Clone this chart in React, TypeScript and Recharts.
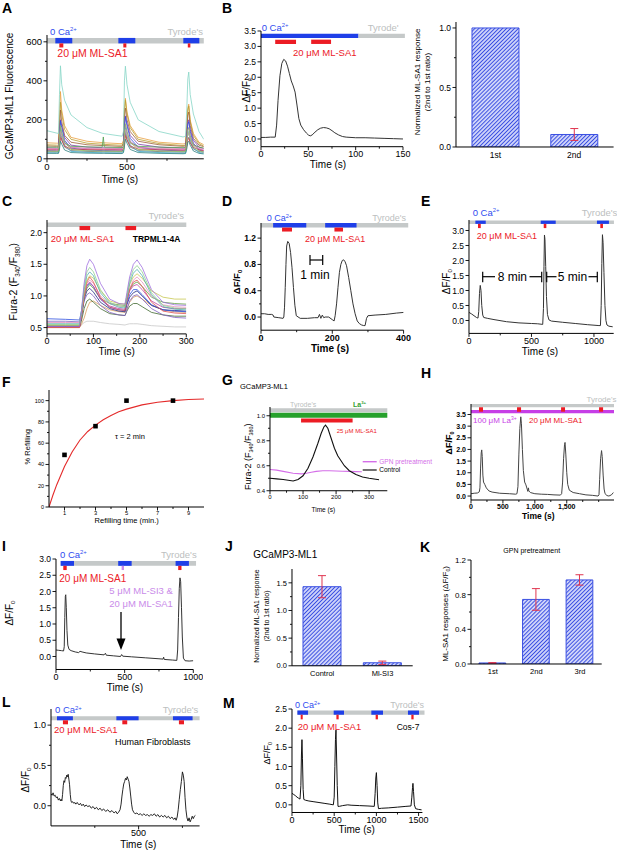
import React from "react";
import { LineChart, Line, BarChart, Bar, XAxis, YAxis, ReferenceArea, ErrorBar } from "recharts";

const FONT = "'Liberation Sans', Arial, Helvetica, sans-serif";
const BLUE_BAR = "#1f3fe8";
const RED_BAR = "#ec1c24";
const GRAY_BAR = "#c5c9c9";
const BLUE_TXT = "#2f4cf0";
const RED_TXT = "#ec2028";
const TYRODE = "#bcc0c0";
const VIOLET = "#c98be9";
const MAGENTA = "#c63ee6";
const GPN = "#d46ee8";
const GREEN_BAR = "#26a12c";
const GREEN_TXT = "#34a034";
const TRACE = "#333333";
const HATCH = "#3a4fe2";

// ---------- A: GCaMP3-ML1 fluorescence, single cells ----------
const aTime = [0, 60, 72, 78, 84, 92, 110, 150, 250, 345, 352, 358, 450, 470, 478, 484, 490, 500, 520, 570, 700, 850, 866, 874, 880, 886, 895, 915, 950, 980];
const aValues = [
  [82, 80, 80, 200, 345, 250, 170, 110, 90, 83, 82, 82, 78, 78, 95, 260, 310, 240, 170, 110, 85, 76, 78, 170, 260, 280, 200, 130, 85, 72],
  [72, 70, 70, 170, 290, 230, 150, 100, 80, 75, 74, 74, 70, 70, 85, 240, 300, 230, 160, 100, 78, 68, 70, 160, 250, 270, 190, 120, 78, 65],
  [66, 64, 64, 150, 250, 190, 120, 85, 72, 68, 68, 68, 64, 64, 78, 210, 260, 200, 140, 90, 72, 64, 66, 150, 220, 240, 170, 105, 70, 62],
  [56, 54, 54, 120, 200, 170, 110, 70, 60, 57, 57, 56, 54, 54, 65, 170, 220, 180, 120, 75, 60, 54, 55, 120, 185, 200, 150, 95, 60, 52],
  [42, 40, 40, 110, 195, 160, 95, 55, 45, 42, 42, 42, 40, 40, 50, 160, 215, 170, 105, 60, 45, 40, 41, 110, 175, 190, 140, 80, 45, 38],
  [50, 48, 48, 100, 160, 130, 85, 58, 52, 49, 49, 49, 47, 47, 55, 130, 175, 140, 90, 58, 50, 46, 47, 95, 150, 160, 120, 75, 50, 44],
  [60, 59, 59, 90, 130, 110, 80, 64, 61, 60, 112, 60, 58, 58, 62, 100, 140, 115, 82, 64, 60, 57, 58, 90, 125, 130, 100, 72, 60, 55],
  [36, 35, 35, 70, 120, 100, 60, 42, 38, 36, 36, 36, 35, 35, 40, 90, 130, 100, 60, 42, 37, 34, 35, 70, 105, 110, 85, 50, 37, 33],
  [31, 30, 30, 80, 150, 120, 70, 38, 33, 31, 31, 31, 30, 30, 36, 110, 160, 120, 70, 38, 32, 29, 30, 80, 130, 140, 100, 55, 32, 28],
  [46, 45, 45, 70, 110, 95, 65, 50, 47, 46, 46, 46, 45, 45, 48, 80, 120, 95, 65, 50, 46, 44, 45, 68, 100, 105, 82, 58, 46, 42],
  [53, 52, 52, 85, 140, 115, 78, 58, 54, 53, 53, 53, 52, 52, 56, 100, 150, 120, 80, 58, 53, 51, 52, 85, 128, 135, 105, 68, 53, 50],
  [28, 28, 28, 50, 90, 75, 45, 32, 29, 28, 28, 28, 27, 27, 31, 65, 100, 80, 48, 32, 28, 26, 27, 52, 85, 90, 70, 40, 28, 25],
  [39, 38, 38, 90, 170, 140, 85, 48, 41, 39, 39, 39, 38, 38, 44, 130, 180, 140, 85, 48, 40, 37, 38, 95, 150, 160, 120, 65, 40, 35],
  [144, 132, 130, 330, 477, 380, 300, 225, 160, 131, 130, 129, 118, 116, 140, 400, 475, 380, 290, 200, 140, 112, 115, 260, 410, 445, 330, 230, 140, 100],
];
const aColors = ["#e8a040", "#b8a030", "#a0603a", "#8040b0", "#3050e0", "#c050c0", "#50a050", "#707070", "#40b0d0", "#d04040", "#e090b0", "#308080", "#90c060", "#86d6c6"];
const aBlue: [number, number][] = [[52, 158], [446, 552], [852, 952]];
const aRed: [number, number][] = [[77, 102], [477, 496], [880, 896]];

// ---------- B ----------
const bTrace: [number, number][] = [[0, 0.05], [5, 0.05], [10, 0.06], [15, 0.06], [16.5, 0.45], [18, 1.25], [20, 2.05], [22, 2.45], [24, 2.58], [26, 2.53], [28, 2.36], [30, 2.12], [32, 1.88], [34, 1.72], [36, 1.52], [38, 1.1], [40, 0.66], [42, 0.45], [45, 0.3], [48, 0.19], [50, 0.13], [52, 0.1], [54, 0.13], [57, 0.22], [60, 0.3], [63, 0.35], [66, 0.37], [69, 0.36], [72, 0.33], [75, 0.27], [78, 0.2], [82, 0.13], [86, 0.08], [90, 0.06], [100, 0.04], [110, 0.04], [120, 0.03], [130, 0.02], [140, 0.01], [150, 0.0]];
const bBlue: [number, number][] = [[0, 103]];
const bGray: [number, number][] = [[103, 152]];
const bRed: [number, number][] = [[15, 37], [53, 74]];
const bBars = [
  { name: "1st", v: 1.0, e: null },
  { name: "2nd", v: 0.105, e: 0.05 },
];

// ---------- C ----------
const cTime = [0, 40, 70, 74, 80, 86, 92, 100, 115, 135, 155, 168, 172, 178, 186, 194, 205, 225, 250, 275, 300];
const cValues = [
  [0.52, 0.52, 0.52, 0.54, 0.58, 0.6, 0.6, 0.6, 0.58, 0.56, 0.55, 0.54, 0.55, 0.56, 0.56, 0.56, 0.55, 0.53, 0.52, 0.51, 0.51],
  [0.5, 0.5, 0.5, 0.55, 0.65, 0.8, 0.9, 0.92, 0.85, 0.78, 0.75, 0.74, 0.8, 0.9, 0.98, 1.0, 0.95, 0.85, 0.78, 0.75, 0.74],
  [0.51, 0.51, 0.51, 0.6, 0.8, 0.92, 0.95, 0.9, 0.8, 0.72, 0.7, 0.69, 0.76, 0.84, 0.88, 0.88, 0.83, 0.74, 0.7, 0.68, 0.68],
  [0.6, 0.6, 0.59, 0.7, 0.92, 1.02, 1.05, 1.0, 0.85, 0.74, 0.7, 0.69, 0.78, 0.92, 1.0, 1.02, 0.95, 0.8, 0.7, 0.66, 0.65],
  [0.52, 0.52, 0.52, 0.66, 0.95, 1.08, 1.12, 1.06, 0.9, 0.8, 0.76, 0.75, 0.86, 0.98, 1.05, 1.08, 1.0, 0.85, 0.78, 0.77, 0.76],
  [0.64, 0.63, 0.62, 0.75, 1.0, 1.15, 1.2, 1.15, 0.95, 0.82, 0.78, 0.77, 0.88, 1.02, 1.1, 1.1, 1.02, 0.86, 0.78, 0.76, 0.75],
  [0.53, 0.53, 0.53, 0.7, 0.98, 1.12, 1.18, 1.12, 0.96, 0.88, 0.86, 0.85, 0.96, 1.1, 1.19, 1.22, 1.15, 0.98, 0.9, 0.88, 0.87],
  [0.51, 0.51, 0.51, 0.68, 1.0, 1.17, 1.22, 1.15, 0.95, 0.84, 0.8, 0.79, 0.92, 1.08, 1.16, 1.18, 1.1, 0.92, 0.82, 0.8, 0.8],
  [0.58, 0.58, 0.58, 0.72, 1.02, 1.2, 1.25, 1.2, 1.0, 0.88, 0.84, 0.83, 0.95, 1.12, 1.25, 1.3, 1.22, 1.0, 0.86, 0.83, 0.82],
  [0.5, 0.5, 0.5, 0.68, 1.0, 1.22, 1.3, 1.22, 0.98, 0.82, 0.78, 0.77, 0.92, 1.1, 1.22, 1.25, 1.15, 0.9, 0.76, 0.73, 0.72],
  [0.54, 0.54, 0.54, 0.7, 1.05, 1.25, 1.32, 1.28, 1.08, 0.92, 0.88, 0.87, 1.0, 1.18, 1.3, 1.35, 1.28, 1.08, 0.98, 0.95, 0.95],
  [0.56, 0.56, 0.56, 0.74, 1.1, 1.32, 1.38, 1.32, 1.05, 0.88, 0.82, 0.81, 0.96, 1.2, 1.36, 1.42, 1.32, 1.02, 0.83, 0.79, 0.78],
  [0.55, 0.55, 0.55, 0.75, 1.15, 1.38, 1.45, 1.38, 1.1, 0.9, 0.84, 0.83, 1.0, 1.25, 1.42, 1.48, 1.38, 1.05, 0.85, 0.81, 0.8],
  [0.52, 0.52, 0.52, 0.75, 1.2, 1.48, 1.58, 1.5, 1.2, 0.95, 0.88, 0.87, 1.05, 1.3, 1.5, 1.57, 1.45, 1.1, 0.9, 0.86, 0.85],
];
const cColors = ["#c8c8c8", "#d8a060", "#406830", "#8060c0", "#202880", "#3050e0", "#60a040", "#c040a0", "#e890c0", "#e05050", "#c8c850", "#50b0b0", "#90d090", "#a070e0"];
const cRed: [number, number][] = [[70, 93], [169, 192]];

// ---------- D ----------
const dTrace: [number, number][] = [[0, 0.05], [10, 0.05], [20, 0.04], [30, 0.04], [34, 0.03], [36, 0.0], [50, -0.01], [62, -0.02], [64, 0.0], [66, 0.15], [68, 0.45], [70, 0.8], [72, 1.08], [75, 1.15], [79, 1.12], [83, 0.98], [87, 0.75], [91, 0.45], [95, 0.18], [99, 0.02], [110, -0.02], [130, -0.02], [150, -0.01], [160, -0.01], [164, 0.04], [168, -0.02], [172, 0.03], [176, -0.01], [180, 0.0], [190, 0.0], [200, -0.04], [205, -0.06], [208, 0.02], [212, 0.2], [216, 0.45], [220, 0.68], [224, 0.8], [228, 0.86], [232, 0.87], [236, 0.84], [240, 0.78], [246, 0.6], [252, 0.4], [258, 0.2], [264, 0.05], [270, -0.06], [276, -0.1], [282, -0.12], [288, -0.13], [292, -0.13], [296, -0.02], [300, 0.02], [320, 0.03], [350, 0.04], [380, 0.06], [400, 0.07]];
const dBlue: [number, number][] = [[34, 127], [180, 268]];
const dRed: [number, number][] = [[59, 87], [206, 230]];

// ---------- E ----------
const eTrace: [number, number][] = [[0, 0.27], [20, 0.22], [40, 0.16], [60, 0.1], [72, 0.08], [78, 0.3], [84, 0.9], [90, 1.17], [96, 1.0], [102, 0.5], [110, 0.18], [118, 0.1], [150, 0.07], [200, 0.03], [300, -0.04], [400, -0.08], [500, -0.1], [550, -0.11], [590, -0.13], [596, 0.4], [600, 1.8], [604, 2.85], [608, 2.7], [614, 1.8], [620, 0.8], [628, 0.2], [640, 0.02], [660, -0.02], [750, -0.06], [850, -0.1], [950, -0.14], [1040, -0.17], [1052, -0.17], [1058, 0.5], [1063, 1.9], [1068, 2.86], [1073, 2.6], [1080, 1.6], [1088, 0.5], [1096, 0.0], [1104, -0.15], [1120, -0.19], [1150, -0.21]];
const eBlue: [number, number][] = [[51, 134], [574, 694], [1024, 1120]];
const eRed: [number, number][] = [[72, 94], [598, 619], [1051, 1072]];

// ---------- F ----------
const fPoints: [number, number][] = [[1, 49], [3, 76], [5, 100], [8, 100]];
const fFit: [number, number][] = [[0, 0], [0.25, 11], [0.5, 21], [1, 38], [1.5, 52], [2, 63], [2.5, 71], [3, 77], [3.5, 82], [4, 86], [4.5, 89.5], [5, 92], [6, 96], [7, 98.5], [8, 100], [9, 101], [10, 101.5]];

// ---------- G ----------
const gControl: [number, number][] = [[0, 0.5], [20, 0.495], [40, 0.49], [70, 0.478], [85, 0.49], [100, 0.52], [115, 0.58], [130, 0.67], [145, 0.78], [155, 0.86], [163, 0.91], [168, 0.925], [175, 0.9], [185, 0.82], [195, 0.74], [205, 0.68], [215, 0.64], [225, 0.6], [240, 0.56], [260, 0.53], [280, 0.51], [300, 0.5], [330, 0.488]];
const gGpn: [number, number][] = [[0, 0.57], [20, 0.565], [40, 0.555], [70, 0.54], [95, 0.535], [110, 0.54], [125, 0.548], [140, 0.555], [160, 0.56], [180, 0.56], [200, 0.558], [220, 0.556], [240, 0.555], [260, 0.553], [278, 0.552]];
const gRed: [number, number][] = [[94, 250]];

// ---------- H ----------
const hTrace: [number, number][] = [[0, 0.1], [50, 0.12], [100, 0.13], [130, 0.18], [140, 0.35], [150, 1.2], [160, 1.85], [168, 1.98], [176, 1.7], [186, 0.9], [196, 0.6], [215, 0.5], [240, 0.35], [280, 0.22], [330, 0.17], [450, 0.12], [600, 0.1], [700, 0.08], [720, 0.1], [735, 0.4], [750, 1.8], [765, 2.9], [780, 3.4], [790, 3.1], [805, 2.0], [820, 1.1], [840, 0.6], [860, 0.48], [880, 0.3], [890, 0.2], [900, 0.35], [906, 0.22], [930, 0.15], [1000, 0.1], [1100, 0.08], [1200, 0.07], [1300, 0.05], [1400, 0.04], [1420, 0.1], [1435, 0.6], [1450, 1.6], [1465, 2.2], [1473, 2.3], [1485, 1.8], [1500, 1.0], [1515, 0.5], [1540, 0.25], [1600, 0.15], [1700, 0.1], [1800, 0.05], [1900, 0.03], [1990, 0.0], [2005, 0.05], [2015, 0.7], [2030, 1.6], [2045, 1.95], [2055, 1.7], [2070, 0.9], [2085, 0.3], [2100, 0.1], [2130, 0.02], [2160, 0.0], [2200, 0.05], [2230, 0.15]];
const hRed: [number, number][] = [[125, 188], [721, 784], [1411, 1473], [2006, 2069]];

// ---------- I ----------
const iTrace: [number, number][] = [[0, 0.2], [20, 0.19], [40, 0.18], [55, 0.17], [60, 0.3], [64, 1.2], [68, 1.85], [71, 1.9], [75, 1.5], [80, 0.8], [86, 0.35], [95, 0.22], [110, 0.18], [140, 0.14], [165, 0.12], [175, 0.16], [190, 0.14], [220, 0.11], [280, 0.08], [350, 0.05], [360, 0.1], [366, 0.04], [420, 0.02], [470, 0.0], [478, 0.06], [486, 0.01], [550, -0.01], [650, -0.04], [750, -0.07], [780, -0.08], [784, -0.02], [788, -0.09], [850, -0.11], [880, -0.12], [886, 0.2], [892, 1.2], [898, 2.1], [903, 2.42], [908, 2.3], [914, 1.5], [920, 0.6], [928, -0.05], [940, -0.13], [970, -0.14], [1000, -0.13]];
const iBlue: [number, number][] = [[34, 131], [453, 551], [871, 968]];
const iRed: [number, number][] = [[53, 78], [890, 914]];
const iViolet: [number, number][] = [[478, 495]];

// ---------- J, K ----------
const jBars = [
  { name: "Control", v: 1.43, e: 0.2 },
  { name: "Ml-SI3", v: 0.055, e: 0.03 },
];
const kBars = [
  { name: "1st", v: 0.012, e: 0.004 },
  { name: "2nd", v: 0.745, e: 0.125 },
  { name: "3rd", v: 0.97, e: 0.06 },
];

// ---------- L ----------
const lTrace: [number, number][] = [[0, 0.15], [6, 0.13], [12, 0.16], [18, 0.12], [24, 0.13], [30, 0.1], [36, 0.11], [42, 0.07], [48, 0.09], [54, 0.06], [58, 0.08], [62, 0.06], [66, 0.14], [70, 0.25], [74, 0.31], [78, 0.29], [82, 0.35], [86, 0.34], [90, 0.38], [94, 0.36], [98, 0.39], [102, 0.33], [106, 0.26], [110, 0.14], [114, 0.06], [118, 0.04], [124, 0.05], [130, 0.03], [136, 0.04], [142, 0.02], [148, 0.04], [154, 0.03], [160, 0.01], [168, 0.03], [176, 0.0], [184, 0.02], [192, -0.01], [200, 0.01], [210, -0.01], [220, 0.0], [230, -0.03], [240, -0.01], [250, -0.04], [260, -0.02], [270, -0.05], [280, -0.03], [290, -0.06], [300, -0.04], [312, -0.07], [324, -0.05], [336, -0.08], [348, -0.06], [360, -0.09], [370, -0.07], [378, -0.1], [386, -0.08], [394, -0.05], [400, 0.02], [405, 0.12], [410, 0.2], [415, 0.27], [420, 0.3], [425, 0.34], [430, 0.32], [435, 0.36], [440, 0.33], [445, 0.3], [450, 0.22], [455, 0.12], [460, 0.02], [465, -0.05], [472, -0.08], [480, -0.1], [490, -0.09], [500, -0.11], [510, -0.1], [520, -0.12], [530, -0.1], [540, -0.12], [550, -0.11], [560, -0.13], [570, -0.11], [580, -0.12], [590, -0.1], [600, -0.13], [610, -0.11], [620, -0.14], [630, -0.12], [640, -0.14], [650, -0.12], [660, -0.15], [670, -0.13], [680, -0.16], [690, -0.14], [700, -0.17], [708, -0.15], [714, -0.18], [720, -0.14], [726, -0.05], [732, 0.08], [738, 0.2], [744, 0.3], [750, 0.42], [755, 0.38], [760, 0.3], [765, 0.1], [770, -0.05], [776, -0.15], [782, -0.19], [788, -0.15], [794, -0.2], [800, -0.17], [806, -0.13], [812, -0.16], [818, -0.13], [824, -0.12]];
const lBlue: [number, number][] = [[34, 125], [373, 500], [696, 808]];
const lRed: [number, number][] = [[68, 97], [407, 435], [730, 759]];

// ---------- M ----------
const mTrace: [number, number][] = [[0, 0.3], [20, 0.27], [40, 0.24], [60, 0.2], [80, 0.17], [95, 0.15], [105, 0.5], [112, 1.3], [118, 1.7], [124, 1.2], [132, 0.4], [140, 0.14], [160, 0.12], [200, 0.1], [260, 0.08], [320, 0.06], [380, 0.04], [440, 0.02], [490, 0.0], [500, 0.2], [508, 1.0], [515, 1.7], [521, 1.95], [528, 1.3], [536, 0.5], [545, -0.04], [560, -0.04], [600, -0.02], [660, 0.0], [700, -0.01], [800, -0.02], [900, -0.03], [975, -0.04], [985, 0.3], [993, 0.7], [1000, 0.84], [1008, 0.5], [1016, 0.05], [1025, -0.1], [1060, -0.09], [1140, -0.08], [1250, -0.06], [1350, -0.04], [1410, -0.03], [1420, 0.2], [1428, 0.45], [1433, 0.56], [1440, 0.35], [1450, 0.0], [1465, -0.1], [1500, -0.12], [1535, -0.13]];
const mBlue: [number, number][] = [[64, 190], [494, 616], [940, 1078], [1374, 1505]];
const mRed: [number, number][] = [[103, 127], [526, 553], [991, 1018], [1414, 1441]];

// ---------- helpers ----------
const pts = (a: [number, number][]) => a.map(([t, y]) => ({ t, y }));
const rows = (time: number[], series: number[][]) =>
  time.map((t, i) => {
    const r: Record<string, number> = { t };
    series.forEach((s, k) => (r["s" + k] = s[i]));
    return r;
  });
const aRows = rows(aTime, aValues);
const cRows = rows(cTime, cValues);

type Box = { l: number; t: number; r: number; b: number };
type AxisSpec = { domain: [number, number]; major: number[]; minor?: number[]; fmt: (v: number) => string; fs: number; bold?: boolean };

const YW = 34;
const XH = 24;
const PT = 6;
const PR = 10;
const AXL = { stroke: "#000", strokeWidth: 1 };
const f0 = (v: number) => String(v);
const f1 = (v: number) => v.toFixed(1);
const fc = (v: number) => v.toLocaleString("en-US");

const isMajor = (ax: AxisSpec, v: number) => ax.major.some((m) => Math.abs(m - v) < 1e-9);

const xTick = (ax: AxisSpec) => (p: any) => {
  const v = Number(p.payload && p.payload.value);
  const major = isMajor(ax, v);
  const len = major ? 3.5 : 2;
  return (
    <g>
      <line x1={p.x} x2={p.x} y1={p.y} y2={p.y + len} stroke="#000" strokeWidth={0.9} />
      {major ? (
        <text x={p.x} y={p.y + len + 0.5 + ax.fs * 0.72} textAnchor="middle" fontSize={ax.fs} fontFamily={FONT} fontWeight={ax.bold ? 700 : 400} fill="#000">
          {ax.fmt(v)}
        </text>
      ) : null}
    </g>
  );
};

const yTick = (ax: AxisSpec) => (p: any) => {
  const v = Number(p.payload && p.payload.value);
  const major = isMajor(ax, v);
  const len = major ? 3.5 : 2;
  return (
    <g>
      <line x1={p.x - len} x2={p.x} y1={p.y} y2={p.y} stroke="#000" strokeWidth={0.9} />
      {major ? (
        <text x={p.x - len - 1.5} y={p.y + ax.fs * 0.36} textAnchor="end" fontSize={ax.fs} fontFamily={FONT} fontWeight={ax.bold ? 700 : 400} fill="#000">
          {ax.fmt(v)}
        </text>
      ) : null}
    </g>
  );
};

const catTick = (fs: number) => (p: any) => (
  <text x={p.x} y={p.y + 3.5 + fs * 0.9} textAnchor="middle" fontSize={fs} fontFamily={FONT} fill="#000">
    {p.payload.value}
  </text>
);

function dims(box: Box) {
  return { left: box.l - YW, top: box.t - PT, width: box.r - box.l + YW + PR, height: box.b - box.t + PT + XH };
}

function yAxisEl(y: AxisSpec) {
  return (
    <YAxis type="number" domain={y.domain} allowDataOverflow ticks={[...y.major, ...(y.minor || [])]} interval={0} width={YW} axisLine={AXL} tickLine={false} tickSize={0} tickMargin={0} tick={yTick(y)} />
  );
}

function TracePanel({ box, x, y, data, children }: { box: Box; x: AxisSpec; y: AxisSpec; data?: any[]; children: React.ReactNode }) {
  const d = dims(box);
  return (
    <div style={{ position: "absolute", left: d.left, top: d.top }}>
      <LineChart width={d.width} height={d.height} data={data} margin={{ top: PT, right: PR, bottom: 0, left: 0 }}>
        <XAxis type="number" dataKey="t" domain={x.domain} allowDataOverflow ticks={[...x.major, ...(x.minor || [])]} interval={0} height={XH} axisLine={AXL} tickLine={false} tickSize={0} tickMargin={0} tick={xTick(x)} />
        {yAxisEl(y)}
        {children}
      </LineChart>
    </div>
  );
}

function BarPanel({ box, y, data, barSize, fs }: { box: Box; y: AxisSpec; data: any[]; barSize: number; fs: number }) {
  const d = dims(box);
  return (
    <div style={{ position: "absolute", left: d.left, top: d.top }}>
      <BarChart width={d.width} height={d.height} data={data} margin={{ top: PT, right: PR, bottom: 0, left: 0 }}>
        <XAxis type="category" dataKey="name" height={XH} axisLine={AXL} tickLine={false} tickSize={0} tickMargin={0} interval={0} tick={catTick(fs)} />
        {yAxisEl(y)}
        <Bar dataKey="v" barSize={barSize} fill="url(#hatchBlue)" stroke={HATCH} strokeWidth={1} isAnimationActive={false}>
          <ErrorBar dataKey="e" width={4} stroke="#e0354f" strokeWidth={1} direction="y" />
        </Bar>
      </BarChart>
    </div>
  );
}

function cond(key: string, spans: [number, number][], y1: number, y2: number, fill: string) {
  return spans.map(([a, b], i) => (
    <ReferenceArea key={key + i} x1={a} x2={b} y1={y1} y2={y2} fill={fill} fillOpacity={1} stroke="none" ifOverflow="visible" />
  ));
}

function trace(key: string, data: [number, number][], color = TRACE, w = 1) {
  return <Line key={key} data={pts(data)} dataKey="y" type="linear" stroke={color} strokeWidth={w} dot={false} activeDot={false} isAnimationActive={false} />;
}

// ---------- text overlay helpers ----------
function T({ x, y, s, c = "#000", a = "start", b = false, r = false, children }: any) {
  return (
    <text x={x} y={y} fontSize={s} fill={c} textAnchor={a} fontWeight={b ? 700 : 400} fontFamily={FONT} transform={r ? `rotate(-90 ${x} ${y})` : undefined}>
      {children}
    </text>
  );
}
const sup = (s: number, t: string) => (
  <tspan dy={-s * 0.38} fontSize={s * 0.62}>
    {t}
  </tspan>
);
const dff = (s: number) => (
  <>
    ΔF/F
    <tspan dy={s * 0.22} fontSize={s * 0.62}>
      0
    </tspan>
  </>
);
const fura = (s: number) => (
  <>
    Fura-2 (F
    <tspan dy={s * 0.22} fontSize={s * 0.6}>
      340
    </tspan>
    <tspan dy={-s * 0.22}>/F</tspan>
    <tspan dy={s * 0.22} fontSize={s * 0.6}>
      380
    </tspan>
    <tspan dy={-s * 0.22}>)</tspan>
  </>
);

// ---------- panel geometry ----------
const aBox = { l: 46.7, t: 34.9, r: 203.5, b: 158.7 };
const bBox = { l: 260.7, t: 30.7, r: 402.7, b: 146.4 };
const bbBox = { l: 455.7, t: 21.7, r: 613.3, b: 146.7 };
const cBox = { l: 46.7, t: 219.7, r: 186, b: 333.6 };
const dBox = { l: 260.7, t: 223.3, r: 403.3, b: 330.5 };
const eBox = { l: 469.3, t: 219.5, r: 614, b: 332.9 };
const fBox = { l: 49.3, t: 389.7, r: 204.3, b: 506.7 };
const gBox = { l: 270, t: 407.25, r: 387.3, b: 491 };
const hBox = { l: 471, t: 404, r: 614, b: 500 };
const iBox = { l: 56, t: 559, r: 193.3, b: 669.5 };
const jBox = { l: 292.3, t: 568.9, r: 413, b: 665.7 };
const kBox = { l: 471, t: 560, r: 601.7, b: 664 };
const lBox = { l: 50.7, t: 709, r: 199.3, b: 825.9 };
const mBox = { l: 292.3, t: 708.5, r: 422.7, b: 812 };

const half = (a: number, b: number, s: number) => {
  const out: number[] = [];
  for (let v = a; v <= b + 1e-9; v += s) out.push(Math.round(v * 100) / 100);
  return out;
};

export default function App() {
  return (
    <div style={{ position: "absolute", left: 0, top: 0, width: 617, height: 850, background: "#fff", overflow: "hidden", fontFamily: FONT }}>
      <svg width={0} height={0} style={{ position: "absolute" }}>
        <defs>
          <pattern id="hatchBlue" width={2.8} height={2.8} patternUnits="userSpaceOnUse" patternTransform="rotate(45)">
            <rect width={2.8} height={2.8} fill="#f2f3ff" />
            <line x1={1.4} y1={0} x2={1.4} y2={2.8} stroke={HATCH} strokeWidth={1.3} />
          </pattern>
        </defs>
      </svg>

      {/* A */}
      <TracePanel box={aBox} data={aRows} x={{ domain: [0, 980], major: [0, 500], minor: [250, 750], fmt: f0, fs: 9.5 }} y={{ domain: [0, 635], major: [0, 200, 400, 600], minor: [100, 300, 500], fmt: f0, fs: 9.5 }}>
        {cond("ag", [[0, 980]], 592, 620, GRAY_BAR)}
        {cond("ab", aBlue, 592, 620, BLUE_BAR)}
        {cond("ar", aRed, 571, 592, RED_BAR)}
        {aValues.map((_, k) => (
          <Line key={"a" + k} dataKey={"s" + k} stroke={aColors[k]} strokeWidth={0.8} dot={false} activeDot={false} isAnimationActive={false} />
        ))}
      </TracePanel>

      {/* B */}
      <TracePanel box={bBox} x={{ domain: [0, 150], major: [0, 50, 100, 150], minor: [25, 75, 125], fmt: f0, fs: 9 }} y={{ domain: [-0.25, 3.5], major: half(0, 3.5, 0.5), fmt: f1, fs: 8.5 }}>
        {cond("bb", bBlue, 3.27, 3.41, BLUE_BAR)}
        {cond("bg", bGray, 3.27, 3.41, GRAY_BAR)}
        {cond("br", bRed, 3.08, 3.22, RED_BAR)}
        {trace("b", bTrace)}
      </TracePanel>
      <BarPanel box={bbBox} data={bBars} barSize={47} fs={8.5} y={{ domain: [0, 1.05], major: [0, 0.5, 1], minor: [0.25, 0.75], fmt: f1, fs: 8.5 }} />

      {/* C */}
      <TracePanel box={cBox} data={cRows} x={{ domain: [0, 300], major: [0, 100, 200, 300], minor: [50, 150, 250], fmt: f0, fs: 9 }} y={{ domain: [0.4, 2.2], major: [0.5, 1, 1.5, 2], minor: [0.75, 1.25, 1.75], fmt: f1, fs: 8.5 }}>
        {cond("cg", [[0, 300]], 2.09, 2.16, GRAY_BAR)}
        {cond("cr", cRed, 2.04, 2.105, RED_BAR)}
        {cValues.map((_, k) => (
          <Line key={"c" + k} dataKey={"s" + k} stroke={cColors[k]} strokeWidth={0.8} dot={false} activeDot={false} isAnimationActive={false} />
        ))}
      </TracePanel>

      {/* D */}
      <TracePanel box={dBox} x={{ domain: [0, 400], major: [0, 200, 400], minor: [100, 300], fmt: f0, fs: 9, bold: true }} y={{ domain: [-0.2, 1.43], major: [0, 0.4, 0.8, 1.2], minor: [0.2, 0.6, 1.0], fmt: f1, fs: 8.5, bold: true }}>
        {cond("dg", [[0, 413]], 1.36, 1.43, GRAY_BAR)}
        {cond("db", dBlue, 1.36, 1.43, BLUE_BAR)}
        {cond("dr", dRed, 1.3, 1.36, RED_BAR)}
        {trace("d", dTrace)}
      </TracePanel>

      {/* E */}
      <TracePanel box={eBox} x={{ domain: [0, 1158], major: [0, 500, 1000], minor: [250, 750], fmt: f0, fs: 9 }} y={{ domain: [-0.43, 3.35], major: half(0, 3, 0.5), fmt: f1, fs: 8.5 }}>
        {cond("eg", [[0, 1160]], 3.22, 3.33, GRAY_BAR)}
        {cond("eb", eBlue, 3.22, 3.33, BLUE_BAR)}
        {cond("er", eRed, 3.08, 3.22, RED_BAR)}
        {trace("e", eTrace)}
      </TracePanel>

      {/* F */}
      <TracePanel box={fBox} x={{ domain: [0, 10], major: [1, 3, 5, 7, 9], minor: [2, 4, 6, 8], fmt: f0, fs: 5.8 }} y={{ domain: [0, 110], major: [0, 20, 40, 60, 80, 100], minor: [10, 30, 50, 70, 90], fmt: f0, fs: 5.5 }}>
        {trace("ff", fFit, "#e42a2a", 1.1)}
        <Line
          key="fp"
          data={pts(fPoints)}
          dataKey="y"
          stroke="none"
          isAnimationActive={false}
          activeDot={false}
          dot={(p: any) => <rect key={"fp" + p.index} x={p.cx - 2.3} y={p.cy - 2.3} width={4.6} height={4.6} fill="#000" />}
        />
      </TracePanel>

      {/* G */}
      <TracePanel box={gBox} x={{ domain: [0, 355], major: [0, 100, 200, 300], minor: [50, 150, 250], fmt: f0, fs: 6 }} y={{ domain: [0.4, 1.07], major: [0.4, 0.6, 0.8, 1.0], minor: [0.5, 0.7, 0.9], fmt: f1, fs: 6 }}>
        {cond("gg", [[0, 355]], 1.028, 1.06, GRAY_BAR)}
        {cond("gn", [[0, 355]], 0.984, 1.024, GREEN_BAR)}
        {cond("gr", gRed, 0.946, 0.978, RED_BAR)}
        {trace("gp", gGpn, GPN, 1.1)}
        {trace("gc", gControl, "#111", 1.1)}
      </TracePanel>

      {/* H */}
      <TracePanel box={hBox} x={{ domain: [0, 2240], major: [0, 500, 1000, 1500], minor: [250, 750, 1250, 1750, 2000], fmt: fc, fs: 7, bold: true }} y={{ domain: [-0.17, 3.95], major: half(0, 3.5, 0.5), fmt: f1, fs: 7, bold: true }}>
        {cond("hg", [[0, 2240]], 3.81, 3.95, GRAY_BAR)}
        {cond("hm", [[0, 2240]], 3.55, 3.69, MAGENTA)}
        {cond("hr", hRed, 3.62, 3.81, RED_BAR)}
        {trace("h", hTrace, "#444")}
      </TracePanel>

      {/* I */}
      <TracePanel box={iBox} x={{ domain: [0, 1000], major: [0, 500, 1000], minor: [250, 750], fmt: f0, fs: 9 }} y={{ domain: [-0.4, 3.0], major: half(0, 3, 0.5), fmt: f1, fs: 8.5 }}>
        {cond("ig", [[34, 1020]], 2.79, 2.94, GRAY_BAR)}
        {cond("ib", iBlue, 2.79, 2.94, BLUE_BAR)}
        {cond("ir", iRed, 2.66, 2.79, RED_BAR)}
        {cond("iv", iViolet, 2.66, 2.79, VIOLET)}
        {trace("i", iTrace)}
      </TracePanel>

      {/* J, K */}
      <BarPanel box={jBox} data={jBars} barSize={38} fs={7.5} y={{ domain: [0, 1.75], major: [0, 0.5, 1, 1.5], minor: [0.25, 0.75, 1.25], fmt: f1, fs: 7.5 }} />
      <BarPanel box={kBox} data={kBars} barSize={26.7} fs={7.5} y={{ domain: [0, 1.2], major: [0, 0.4, 0.8, 1.2], minor: [0.2, 0.6, 1.0], fmt: f1, fs: 8 }} />

      {/* L */}
      <TracePanel box={lBox} x={{ domain: [0, 848], major: [500], minor: [250, 750], fmt: f0, fs: 9 }} y={{ domain: [-0.25, 1.2], major: [0, 0.5, 1], minor: [0.25, 0.75], fmt: f1, fs: 9 }}>
        {cond("lg", [[0, 848]], 1.06, 1.11, GRAY_BAR)}
        {cond("lb", lBlue, 1.06, 1.11, BLUE_BAR)}
        {cond("lr", lRed, 1.01, 1.06, RED_BAR)}
        {trace("l", lTrace, "#111", 0.9)}
      </TracePanel>

      {/* M */}
      <TracePanel box={mBox} x={{ domain: [0, 1545], major: [0, 500, 1000, 1500], minor: [250, 750, 1250], fmt: f0, fs: 9 }} y={{ domain: [-0.2, 2.5], major: half(0, 2.5, 0.5), fmt: f1, fs: 8.5 }}>
        {cond("mg", [[64, 1570]], 2.35, 2.46, GRAY_BAR)}
        {cond("mb", mBlue, 2.35, 2.46, BLUE_BAR)}
        {cond("mr", mRed, 2.23, 2.35, RED_BAR)}
        {trace("m", mTrace, "#111")}
      </TracePanel>

      {/* text and annotation overlay */}
      <svg width={617} height={850} style={{ position: "absolute", left: 0, top: 0, pointerEvents: "none" }}>
        {/* panel letters */}
        <T x={2} y={13} s={14} b>A</T>
        <T x={222} y={13} s={14} b>B</T>
        <T x={2} y={206} s={14} b>C</T>
        <T x={222} y={206} s={14} b>D</T>
        <T x={421} y={206} s={14} b>E</T>
        <T x={2} y={387} s={14} b>F</T>
        <T x={222} y={385} s={14} b>G</T>
        <T x={421} y={378} s={14} b>H</T>
        <T x={2} y={551} s={14} b>I</T>
        <T x={225} y={551} s={14} b>J</T>
        <T x={420} y={552} s={14} b>K</T>
        <T x={2} y={707} s={14} b>L</T>
        <T x={223} y={708} s={14} b>M</T>

        {/* A */}
        <T x={50} y={35} s={9.5} c={BLUE_TXT}>0 Ca{sup(9.5, "2+")}</T>
        <T x={203} y={35} s={9.5} c={TYRODE} a="end">Tyrode's</T>
        <T x={57.3} y={56.5} s={10.5} c={RED_TXT}>20 μM ML-SA1</T>
        <T x={12.5} y={96} s={10} a="middle" r>GCaMP3-ML1 Fluorescence</T>
        <T x={120} y={182.5} s={10} a="middle">Time (s)</T>

        {/* B */}
        <T x={261.7} y={30.5} s={9.5} c={BLUE_TXT}>0 Ca{sup(9.5, "2+")}</T>
        <T x={367.7} y={30.5} s={9.5} c={TYRODE}>Tyrode'</T>
        <T x={293} y={56} s={9.5} c={RED_TXT}>20 μM ML-SA1</T>
        <T x={250} y={90} s={10} a="middle" r>{dff(10)}</T>
        <T x={328} y={168} s={10} a="middle">Time (s)</T>
        <T x={420} y={82} s={8} a="middle" r>Normalized ML-SA1 response</T>
        <T x={429.5} y={82} s={8} a="middle" r>(2nd to 1st ratio)</T>

        {/* C */}
        <T x={184} y={219} s={9.5} c={TYRODE} a="end">Tyrode's</T>
        <T x={50.7} y={241.5} s={9.5} c={RED_TXT}>20 μM ML-SA1</T>
        <T x={132.7} y={241.5} s={8.5} b>TRPML1-4A</T>
        <T x={17.5} y={281.7} s={10.5} a="middle" r>{fura(10.5)}</T>
        <T x={116.7} y={355} s={10} a="middle">Time (s)</T>

        {/* D */}
        <T x={266.7} y={221} s={9} c={BLUE_TXT}>0 Ca{sup(9, "2+")}</T>
        <T x={406} y={221} s={9} c={TYRODE} a="end">Tyrode's</T>
        <T x={305} y={242.3} s={9} c={RED_TXT}>20 μM ML-SA1</T>
        <g stroke="#000" strokeWidth={1.2}>
          <line x1={310} y1={255} x2={310} y2={265} />
          <line x1={322.7} y1={255} x2={322.7} y2={265} />
          <line x1={310} y1={260} x2={322.7} y2={260} />
        </g>
        <T x={315} y={278.5} s={12} a="middle">1 min</T>
        <T x={240} y={282} s={9.5} a="middle" b r>{dff(9.5)}</T>
        <T x={330} y={352.3} s={10} a="middle" b>Time (s)</T>

        {/* E */}
        <T x={472.7} y={215.7} s={9.5} c={BLUE_TXT}>0 Ca{sup(9.5, "2+")}</T>
        <T x={581.7} y={216} s={9.5} c={TYRODE}>Tyrode's</T>
        <T x={476.7} y={239} s={9} c={RED_TXT}>20 μM ML-SA1</T>
        <g stroke="#000" strokeWidth={1.2}>
          <line x1={482.7} y1={271.7} x2={482.7} y2={282.3} />
          <line x1={482.7} y1={276.7} x2={495} y2={276.7} />
          <line x1={529.5} y1={276.7} x2={541.7} y2={276.7} />
          <line x1={541.7} y1={271.7} x2={541.7} y2={282.3} />
          <line x1={546.7} y1={271.7} x2={546.7} y2={282.3} />
          <line x1={546.7} y1={276.7} x2={556.5} y2={276.7} />
          <line x1={588.5} y1={276.7} x2={597.3} y2={276.7} />
          <line x1={597.3} y1={271.7} x2={597.3} y2={282.3} />
        </g>
        <T x={512.3} y={281} s={12} a="middle">8 min</T>
        <T x={572.5} y={281} s={12} a="middle">5 min</T>
        <T x={450} y={281.7} s={10} a="middle" r>{dff(10)}</T>
        <T x={540} y={355} s={10} a="middle">Time (s)</T>

        {/* F */}
        <T x={30.5} y={446.7} s={7.5} a="middle" r>% Refilling</T>
        <T x={126.7} y={523.3} s={7.5} a="middle">Refilling time (min.)</T>
        <T x={115} y={439.3} s={7.5}>τ = 2 min</T>

        {/* G */}
        <T x={240} y={389} s={7.5}>GCaMP3-ML1</T>
        <T x={290} y={407} s={7} c={TYRODE}>Tyrode's</T>
        <T x={353} y={407} s={7} c={GREEN_TXT} b>La{sup(7, "3+")}</T>
        <T x={336.7} y={433.3} s={6} c={RED_TXT}>25 μM ML-SA1</T>
        <line x1={362.7} y1={461.7} x2={376.7} y2={461.7} stroke={GPN} strokeWidth={1.4} />
        <T x={379.3} y={464} s={6.5} c={GPN}>GPN pretreatment</T>
        <line x1={362.7} y1={470} x2={376.7} y2={470} stroke="#111" strokeWidth={1.2} />
        <T x={379.3} y={472.3} s={6.5}>Control</T>
        <T x={251} y={456.7} s={9} a="middle" r>{fura(9)}</T>
        <T x={323.3} y={511.7} s={6.5} a="middle">Time (s)</T>

        {/* H */}
        <T x={616.5} y={401.5} s={8} c={TYRODE} a="end">Tyrode's</T>
        <T x={473} y={423.3} s={8} c={MAGENTA}>100 μM La{sup(8, "3+")}</T>
        <T x={529} y={423.3} s={8} c={RED_TXT}>20 μM ML-SA1</T>
        <T x={452} y={443} s={9} a="middle" b r>{dff(9)}</T>
        <T x={538.3} y={518.5} s={8.5} a="middle" b>Time (s)</T>

        {/* I */}
        <T x={60} y={557.7} s={9.5} c={BLUE_TXT}>0 Ca{sup(9.5, "2+")}</T>
        <T x={196.7} y={557.7} s={9.5} c={TYRODE} a="end">Tyrode's</T>
        <T x={59.3} y={581.7} s={10} c={RED_TXT}>20 μM ML-SA1</T>
        <T x={109.3} y={594.3} s={9.5} c={VIOLET}>5 μM ML-SI3 &amp;</T>
        <T x={109.3} y={606.7} s={9.5} c={VIOLET}>20 μM ML-SA1</T>
        <line x1={121} y1={612} x2={121} y2={641} stroke="#000" strokeWidth={1.3} />
        <polygon points="116.5,638.5 125.5,638.5 121,650" fill="#000" />
        <T x={13} y={613} s={10} a="middle" r>{dff(10)}</T>
        <T x={125} y={691} s={10} a="middle">Time (s)</T>

        {/* J */}
        <T x={253.3} y={558.3} s={10}>GCaMP3-ML1</T>
        <T x={259} y={616} s={7} a="middle" r>Normalized ML-SA1 response</T>
        <T x={268.5} y={616} s={7} a="middle" r>(2nd to 1st ratio)</T>

        {/* K */}
        <T x={503.3} y={553.3} s={7}>GPN pretreatment</T>
        <T x={448} y={614} s={8} a="middle" r>
          ML-SA1 responses (ΔF/F
          <tspan dy={8 * 0.22} fontSize={5}>0</tspan>
          <tspan dy={-8 * 0.22}>)</tspan>
        </T>

        {/* L */}
        <T x={55} y={713.3} s={9.5} c={BLUE_TXT}>0 Ca{sup(9.5, "2+")}</T>
        <T x={198.3} y={713.3} s={9.5} c={TYRODE} a="end">Tyrode's</T>
        <T x={54} y={733.3} s={9.5} c={RED_TXT}>20 μM ML-SA1</T>
        <T x={115} y={745} s={9}>Human Fibroblasts</T>
        <T x={28.5} y={780} s={10} a="middle" r>{dff(10)}</T>
        <T x={138.3} y={848.3} s={10} a="middle">Time (s)</T>

        {/* M */}
        <T x={295} y={708.3} s={9} c={BLUE_TXT}>0 Ca{sup(9, "2+")}</T>
        <T x={424} y={708.3} s={9} c={TYRODE} a="end">Tyrode's</T>
        <T x={297.7} y={730} s={9.5} c={RED_TXT}>20 μM ML-SA1</T>
        <T x={396.7} y={730} s={8.5}>Cos-7</T>
        <T x={270} y={753.3} s={9} a="middle" r>{dff(9)}</T>
        <T x={356.7} y={833.3} s={10} a="middle">Time (s)</T>
      </svg>
    </div>
  );
}
